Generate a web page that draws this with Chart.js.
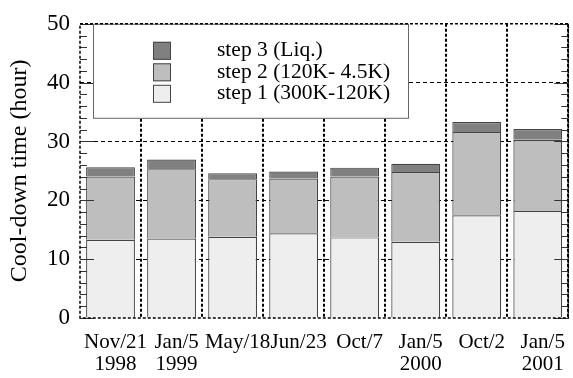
<!DOCTYPE html>
<html>
<head>
<meta charset="utf-8">
<script src="https://cdn.jsdelivr.net/npm/chart.js@4.4.1/dist/chart.umd.min.js"></script>
<style>
  html, body { margin: 0; padding: 0; background: #fff; }
  canvas { display: block; }
</style>
</head>
<body>
<canvas id="cooldown" width="573" height="378"></canvas>
<script>
const dates = [
  ["Nov/21", "1998"],
  ["Jan/5", "1999"],
  "May/18",
  "Jun/23",
  "Oct/7",
  ["Jan/5", "2000"],
  "Oct/2",
  ["Jan/5", "2001"],
];

// hours spent in each step (stacked)
const step1 = [13.3, 13.5, 13.8, 14.4, 13.7, 12.95, 17.45, 18.2];
const step2 = [10.75, 11.8, 9.8, 9.3, 10.35, 11.85, 14.15, 12.1];
const step3 = [1.55, 1.65, 1.0, 1.2, 1.5, 1.4, 1.7, 1.8];

const yTicks = [0, 10, 20, 30, 40, 50];

const serif = "'Liberation Serif', 'Times New Roman', serif";

// -----------------------------------------------------------------------------

const framePlugin = {
  id: "frame",
  afterDatasetsDraw(chart) {
    const { ctx, chartArea: a, scales } = chart;
    const y = scales.y;

    ctx.save();

    // ticks on both sides, minor every 2 h
    ctx.strokeStyle = "#333";
    ctx.lineWidth = 1;
    for (let v = 0; v <= 50; v += 2) {
      const py = Math.round(y.getPixelForValue(v)) + 0.5;
      const len = v % 10 === 0 ? 14 : 7;
      ctx.beginPath();
      ctx.moveTo(a.left, py);
      ctx.lineTo(a.left + len, py);
      ctx.moveTo(a.right - len, py);
      ctx.lineTo(a.right, py);
      ctx.stroke();
    }

    // legend box
    const bx = a.left + 13;
    const by = a.top;
    ctx.fillStyle = "#fff";
    ctx.fillRect(bx, by, 315, 94);
    ctx.strokeStyle = "#666";
    ctx.lineWidth = 1;
    ctx.strokeRect(bx + 0.5, by + 0.5, 315, 94);

    const items = chart.data.datasets.slice().reverse();
    ctx.font = "21.5px " + serif;
    ctx.textBaseline = "middle";
    ctx.textAlign = "left";
    items.forEach((ds, i) => {
      const sy = by + 18 + i * 21.5;
      ctx.fillStyle = ds.backgroundColor;
      ctx.fillRect(bx + 60, sy, 18, 18);
      ctx.strokeStyle = "#444";
      ctx.strokeRect(bx + 60.5, sy + 0.5, 17, 17);
      ctx.fillStyle = "#000";
      ctx.fillText(ds.label, bx + 124, sy + 9);
    });

    // dotted frame
    ctx.setLineDash([3, 2]);
    ctx.lineWidth = 1.5;
    ctx.strokeStyle = "#000";
    ctx.strokeRect(a.left, a.top, a.right - a.left, a.bottom - a.top);

    ctx.restore();
  },
};

const chartElem = document.getElementById("cooldown");

const cooldownChart = new Chart(chartElem, {
  type: "bar",
  data: {
    labels: dates,
    datasets: [
      { label: "step 1 (300K-120K)", data: step1, backgroundColor: "#eeeeee" },
      { label: "step 2 (120K- 4.5K)", data: step2, backgroundColor: "#bebebe" },
      { label: "step 3 (Liq.)", data: step3, backgroundColor: "#808080" },
    ],
  },
  options: {
    responsive: false,
    animation: false,
    devicePixelRatio: 1,
    layout: { padding: { top: 18, right: 1, left: 0, bottom: 0 } },
    datasets: {
      bar: {
        categoryPercentage: 1,
        barPercentage: 0.8,
        borderWidth: 1.2,
        borderColor: "#444",
      },
    },
    plugins: {
      legend: { display: false },
      tooltip: { enabled: false },
    },
    scales: {
      x: {
        stacked: true,
        afterFit: (s) => { s.height = 60; },
        border: { display: false, dash: [3, 2] },
        grid: {
          offset: true,
          drawTicks: false,
          lineWidth: 2,
          color: (ctx) => (ctx.index === 0 || ctx.index === dates.length ? "rgba(0,0,0,0)" : "#000"),
        },
        ticks: {
          color: "#000",
          font: { family: serif, size: 21, lineHeight: 1.05 },
          padding: 13,
          labelOffset: 5,
          maxRotation: 0,
          autoSkip: false,
        },
      },
      y: {
        stacked: true,
        min: 0,
        max: 50,
        afterFit: (s) => { s.width = 80; },
        afterBuildTicks: (s) => { s.ticks = yTicks.map((v) => ({ value: v })); },
        border: { display: false, dash: [4, 3] },
        grid: {
          drawTicks: false,
          lineWidth: 1,
          color: (ctx) => (ctx.tick && (ctx.tick.value === 0 || ctx.tick.value === 50) ? "rgba(0,0,0,0)" : "#000"),
        },
        ticks: {
          color: "#000",
          font: { family: serif, size: 23 },
          padding: 10,
        },
        title: {
          display: true,
          text: "Cool-down time (hour)",
          color: "#000",
          font: { family: serif, size: 24 },
          padding: { top: 5, bottom: 0 },
        },
      },
    },
  },
  plugins: [framePlugin],
});
</script>
</body>
</html>
